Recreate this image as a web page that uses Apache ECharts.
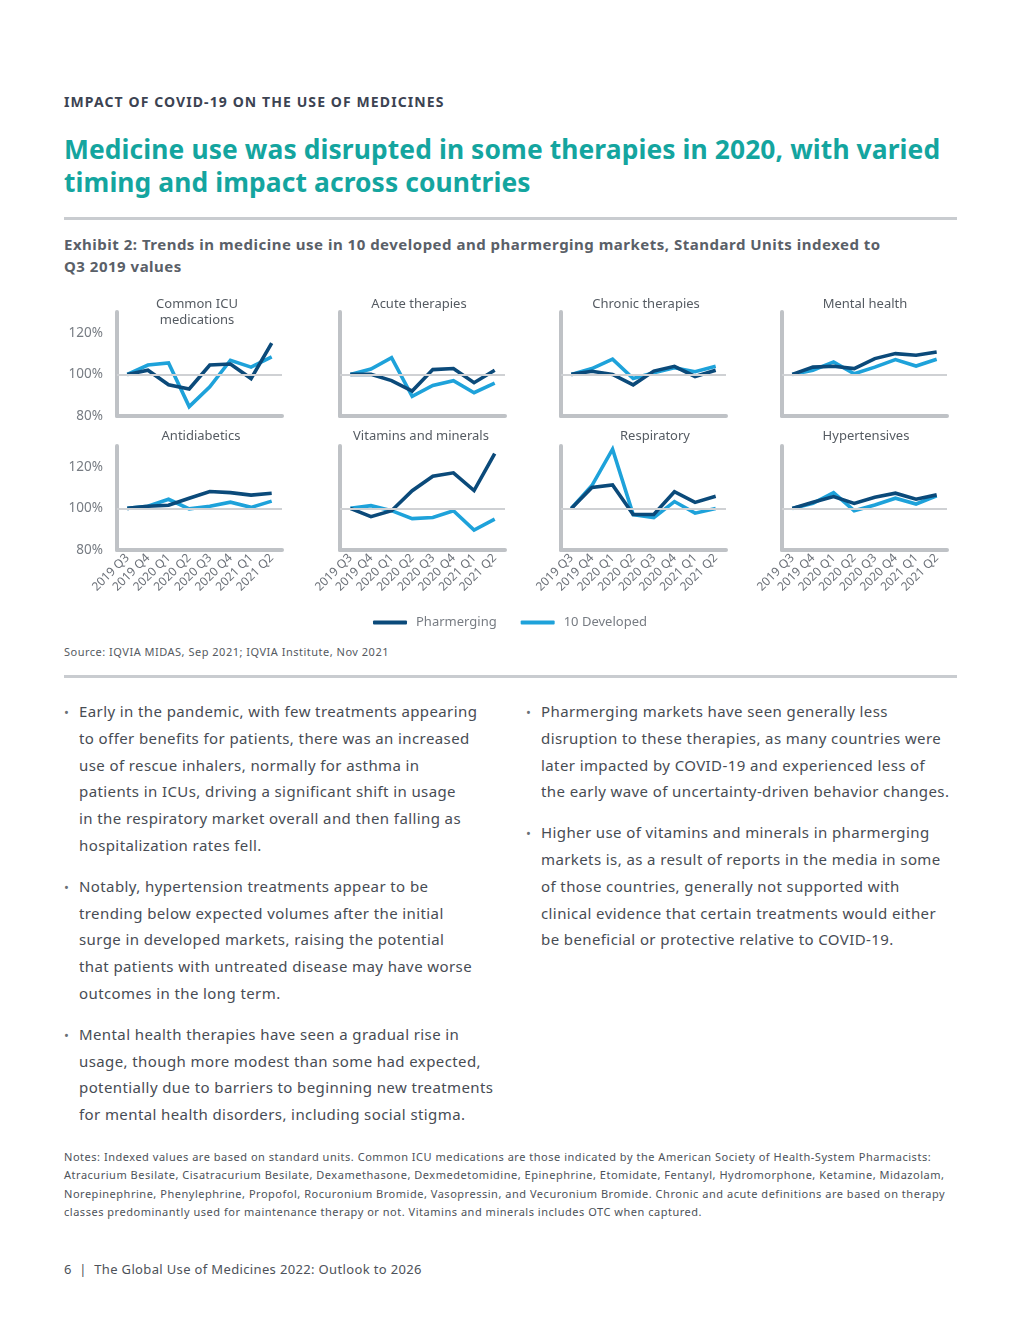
<!DOCTYPE html>
<html>
<head>
<meta charset="utf-8">
<script src="https://cdn.jsdelivr.net/npm/echarts@6/dist/echarts.min.js"></script>
<style>
  html, body { margin: 0; padding: 0; background: #ffffff; }
  body { width: 1020px; height: 1320px; position: relative; font-family: "Noto Sans", "Open Sans", sans-serif; color: #474c54; }
  .abs { position: absolute; white-space: nowrap; }
  #kicker { left: 64px; top: 93px; font-size: 14px; line-height: 18px; font-weight: 700; letter-spacing: 1.1px; color: #3c4352; }
  #title { left: 64px; top: 133px; font-size: 26.4px; line-height: 33px; font-weight: 700; color: #14a59f; letter-spacing: 0.1px; }
  .rule { position: absolute; left: 64px; width: 893px; height: 3px; background: #c9ccd0; }
  #exhibit { left: 64px; top: 233px; font-size: 15px; line-height: 22px; font-weight: 700; color: #5a6068; letter-spacing: 0.5px; }
  #chart { position: absolute; left: 0; top: 285px; width: 1020px; height: 355px; }
  #source { left: 64px; top: 644px; font-size: 11px; line-height: 16px; color: #555a61; letter-spacing: 0.5px; }
  .col { position: absolute; font-size: 15px; line-height: 26.8px; color: #474c54; letter-spacing: 0.4px; }
  .col p { margin: 0 0 14px 0; position: relative; padding-left: 15px; white-space: nowrap; }
  .col p::before { content: "\2022"; position: absolute; left: 0; top: 1px; font-size: 13px; color: #6a6f76; }
  #notes { left: 64px; top: 1148px; font-size: 11px; line-height: 18.3px; color: #4d5259; letter-spacing: 0.52px; }
  #footer { left: 64px; top: 1260px; font-size: 13px; line-height: 18px; color: #4d5259; letter-spacing: 0.35px; }
</style>
</head>
<body>
<div id="kicker" class="abs">IMPACT OF COVID-19 ON THE USE OF MEDICINES</div>
<div id="title" class="abs">Medicine use was disrupted in some therapies in 2020, with varied<br>timing and impact across countries</div>
<div class="rule" style="top:217px"></div>
<div id="exhibit" class="abs">Exhibit 2: Trends in medicine use in 10 developed and pharmerging markets, Standard Units indexed to<br>Q3 2019 values</div>
<div id="chart"></div>
<div id="source" class="abs">Source: IQVIA MIDAS, Sep 2021; IQVIA Institute, Nov 2021</div>
<div class="rule" style="top:675px"></div>
<div class="col" style="left:64px; top:698px;">
  <p>Early in the pandemic, with few treatments appearing<br>to offer benefits for patients, there was an increased<br>use of rescue inhalers, normally for asthma in<br>patients in ICUs, driving a significant shift in usage<br>in the respiratory market overall and then falling as<br>hospitalization rates fell.</p>
  <p>Notably, hypertension treatments appear to be<br>trending below expected volumes after the initial<br>surge in developed markets, raising the potential<br>that patients with untreated disease may have worse<br>outcomes in the long term.</p>
  <p>Mental health therapies have seen a gradual rise in<br>usage, though more modest than some had expected,<br>potentially due to barriers to beginning new treatments<br>for mental health disorders, including social stigma.</p>
</div>
<div class="col" style="left:526px; top:698px;">
  <p>Pharmerging markets have seen generally less<br>disruption to these therapies, as many countries were<br>later impacted by COVID-19 and experienced less of<br>the early wave of uncertainty-driven behavior changes.</p>
  <p>Higher use of vitamins and minerals in pharmerging<br>markets is, as a result of reports in the media in some<br>of those countries, generally not supported with<br>clinical evidence that certain treatments would either<br>be beneficial or protective relative to COVID-19.</p>
</div>
<div id="notes" class="abs">Notes: Indexed values are based on standard units. Common ICU medications are those indicated by the American Society of Health-System Pharmacists:<br>Atracurium Besilate, Cisatracurium Besilate, Dexamethasone, Dexmedetomidine, Epinephrine, Etomidate, Fentanyl, Hydromorphone, Ketamine, Midazolam,<br>Norepinephrine, Phenylephrine, Propofol, Rocuronium Bromide, Vasopressin, and Vecuronium Bromide. Chronic and acute definitions are based on therapy<br>classes predominantly used for maintenance therapy or not. Vitamins and minerals includes OTC when captured.</div>
<div id="footer" class="abs">6&nbsp; |&nbsp; The Global Use of Medicines 2022: Outlook to 2026</div>

<script>
// ---- Data ----
const quarters = ['2019 Q3','2019 Q4','2020 Q1','2020 Q2','2020 Q3','2020 Q4','2021 Q1','2021 Q2'];
const yTicks = [80, 100, 120];
const seriesNames = ['Pharmerging', '10 Developed'];
const panelTitles = ['Common ICU\nmedications', 'Acute therapies', 'Chronic therapies', 'Mental health',
                     'Antidiabetics', 'Vitamins and minerals', 'Respiratory', 'Hypertensives'];

const icuPharm      = [100, 102, 95, 93, 104.5, 105, 98, 115];
const icuDev        = [100, 104.5, 105.5, 84.5, 94, 106.8, 103.5, 108.4];
const acutePharm    = [100, 100, 97, 92, 102.3, 102.8, 96, 102];
const acuteDev      = [100, 102.6, 108, 89.5, 94.7, 97, 91.2, 95.8];
const chronicPharm  = [100, 101.5, 100, 95, 101.6, 103.9, 99, 102];
const chronicDev    = [100, 102.8, 107.3, 98, 100.8, 103.2, 101.3, 103.9];
const mentalPharm   = [100, 103.5, 103.9, 102.8, 107.6, 110, 109.2, 110.8];
const mentalDev     = [100, 102, 106, 100.3, 103.5, 107.1, 104, 107.3];
const antidiabPharm = [100, 101, 101.5, 104.9, 108.1, 107.6, 106.4, 107.3];
const antidiabDev   = [100, 101, 104.4, 99.8, 101, 103, 100.5, 103.5];
const vitPharm      = [100, 96, 98.9, 108.5, 115.5, 117.1, 108.6, 126.3];
const vitDev        = [100, 101.3, 98.9, 95.1, 95.6, 98.9, 89.6, 94.8];
const respPharm     = [100, 110.1, 111.3, 97.1, 97.1, 108, 102.9, 105.8];
const respDev       = [100, 111, 128.5, 97, 95.6, 103.3, 97.7, 100];
const hyperPharm    = [100, 103, 105.7, 102.4, 105.4, 107.3, 104.4, 106.5];
const hyperDev      = [100, 102.4, 107.6, 98.9, 101.6, 104.9, 102.1, 106];

const pharmData = [icuPharm, acutePharm, chronicPharm, mentalPharm, antidiabPharm, vitPharm, respPharm, hyperPharm];
const devData   = [icuDev, acuteDev, chronicDev, mentalDev, antidiabDev, vitDev, respDev, hyperDev];

// ---- Layout / style ----
const DARK = '#0b4a7a', LIGHT = '#1ea2da', AXIS = '#bfc2c6', GRIDC = '#cfd1d4';
const colLeft = [117, 340, 561, 782];
const colWidth = 165;
const rowTop = [27, 161];
const rowHeight = 104;
const titleX = [192, 414, 641, 860, 196, 416, 650, 861];
const titleY = [6, 6, 6, 6, 138, 138, 138, 138];

const chart = echarts.init(document.getElementById('chart'), null, { renderer: 'canvas' });

const grids = [], xAxes = [], yAxes = [], series = [], titles = [];
for (let i = 0; i < 8; i++) {
  const r = Math.floor(i / 4), c = i % 4;
  grids.push({ left: colLeft[c], top: rowTop[r], width: colWidth, height: rowHeight, containLabel: false });
  xAxes.push({
    type: 'category', gridIndex: i, data: quarters, boundaryGap: true,
    axisLine: { show: true, lineStyle: { color: AXIS, width: 4, cap: 'round' } },
    axisTick: { show: false },
    axisLabel: { show: r === 1, rotate: 45, interval: 0, fontSize: 12, color: '#6b7078', margin: 6,
                 fontFamily: 'Noto Sans' },
    splitLine: { show: false }
  });
  yAxes.push({
    type: 'value', gridIndex: i, min: 80, max: 130, interval: 20,
    axisLine: { show: true, lineStyle: { color: AXIS, width: 4, cap: 'round' } },
    axisTick: { show: false },
    axisLabel: { show: c === 0, formatter: v => (yTicks.includes(v) ? v + '%' : ''), showMaxLabel: false,
                 fontSize: 13.5, color: '#777c83', margin: 14, fontFamily: 'Noto Sans' },
    splitLine: { show: false }
  });
  titles.push({
    text: panelTitles[i], left: titleX[i], top: titleY[i], textAlign: 'center',
    textStyle: { fontSize: 13, fontWeight: 'normal', color: '#555b62', lineHeight: 16, fontFamily: 'Noto Sans' }
  });
  series.push({
    type: 'line', xAxisIndex: i, yAxisIndex: i, data: [], silent: true, z: 1,
    markLine: { silent: true, symbol: 'none', label: { show: false },
                lineStyle: { color: GRIDC, width: 2, type: 'solid' }, data: [{ yAxis: 100 }] }
  });
  series.push({
    name: seriesNames[1], type: 'line', xAxisIndex: i, yAxisIndex: i, data: devData[i],
    showSymbol: false, symbol: 'none', z: 2, color: LIGHT,
    lineStyle: { color: LIGHT, width: 3.6, join: 'miter' }
  });
  series.push({
    name: seriesNames[0], type: 'line', xAxisIndex: i, yAxisIndex: i, data: pharmData[i],
    showSymbol: false, symbol: 'none', z: 3, color: DARK,
    lineStyle: { color: DARK, width: 3.6, join: 'miter' }
  });
}

chart.setOption({
  animation: false,
  title: titles,
  grid: grids,
  xAxis: xAxes,
  yAxis: yAxes,
  series: series,
  legend: {
    data: seriesNames, left: 368, top: 326, itemWidth: 34, itemHeight: 4, itemGap: 24,
    icon: 'roundRect', selectedMode: false,
    textStyle: { fontSize: 13, color: '#777c83', fontFamily: 'Noto Sans', padding: [0, 0, 0, 4] }
  }
});
</script>
</body>
</html>
